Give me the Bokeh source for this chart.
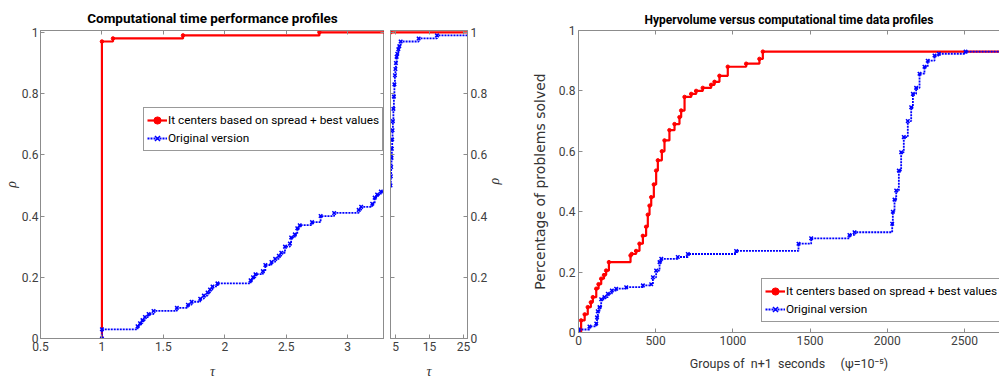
import math
from bokeh.plotting import figure
from bokeh.layouts import row
from bokeh.models import LinearAxis, FixedTicker, Range1d
from bokeh.embed import file_html
from bokeh.resources import INLINE

# ---- performance profile, main panel (tau from 0.5 to 3.3) ----
tau_new = [1.0, 1.0, 1.09, 1.66, 2.77, 3.3]
rho_new = [0.0, 0.97, 0.98, 0.99, 1.0, 1.0]

tau_orig = [1.0, 1.0, 1.29, 1.31, 1.33, 1.35, 1.38, 1.42, 1.61, 1.70, 1.73,
            1.80, 1.83, 1.86, 1.88, 1.90, 1.94, 2.21, 2.23, 2.25, 2.31, 2.33,
            2.38, 2.41, 2.44, 2.46, 2.49, 2.53, 2.54, 2.57, 2.59, 2.61, 2.71,
            2.78, 2.89, 3.09, 3.11, 3.20, 3.22, 3.24, 3.27, 3.3]
rho_orig = [0.0, 0.03, 0.04, 0.05, 0.06, 0.07, 0.08, 0.09, 0.10, 0.11, 0.12,
            0.13, 0.14, 0.15, 0.16, 0.17, 0.18, 0.19, 0.20, 0.21, 0.22, 0.24,
            0.25, 0.26, 0.27, 0.28, 0.30, 0.31, 0.33, 0.34, 0.36, 0.37, 0.38,
            0.40, 0.41, 0.42, 0.43, 0.44, 0.46, 0.47, 0.48, 0.48]

# ---- performance profile, tail panel (tau from 3.5 to 26) ----
tau_new_tail = [3.5, 26.2]
rho_new_tail = [1.0, 1.0]
tau_orig_tail = [3.5, 3.6, 3.7, 3.8, 3.9, 4.0, 4.1, 4.2, 4.35, 4.5, 4.65, 4.8,
                 4.95, 5.1, 5.3, 5.5, 5.8, 6.1, 6.5, 11.8, 17.2, 26.2]
rho_orig_tail = [0.50, 0.53, 0.56, 0.59, 0.62, 0.65, 0.68, 0.71, 0.75, 0.79,
                 0.83, 0.86, 0.88, 0.90, 0.92, 0.93, 0.945, 0.955, 0.97, 0.98,
                 0.99, 0.99]

# ---- hypervolume versus computational time data profiles ----
t_new = [0, 17, 40, 60, 80, 93, 115, 130, 147, 165, 179, 197, 337, 345, 373,
         395, 417, 438, 449, 460, 471, 488, 503, 514, 540, 557, 589, 622, 654,
         665, 687, 730, 762, 805, 859, 881, 913, 967, 1086, 1172, 1194, 2730]
p_new = [0.0, 0.04, 0.06, 0.084, 0.10, 0.117, 0.145, 0.16, 0.178, 0.19, 0.205,
         0.233, 0.255, 0.26, 0.27, 0.294, 0.32, 0.35, 0.39, 0.42, 0.448, 0.49,
         0.536, 0.57, 0.60, 0.636, 0.67, 0.69, 0.713, 0.735, 0.78, 0.79, 0.80,
         0.81, 0.82, 0.83, 0.85, 0.88, 0.89, 0.906, 0.93, 0.93]

t_orig = [0, 0, 71, 115, 120, 125, 136, 147, 168, 190, 216, 244, 309, 417, 471,
          482, 503, 525, 536, 643, 708, 1021, 1425, 1507, 1755, 1788, 2032,
          2036, 2047, 2058, 2075, 2090, 2107, 2133, 2155, 2166, 2187, 2209,
          2241, 2262, 2306, 2334, 2507, 2730]
p_orig = [0.0, 0.01, 0.02, 0.03, 0.05, 0.07, 0.084, 0.11, 0.117, 0.128, 0.139,
          0.145, 0.15, 0.156, 0.16, 0.183, 0.205, 0.233, 0.244, 0.25, 0.26,
          0.27, 0.294, 0.312, 0.323, 0.332, 0.36, 0.40, 0.44, 0.47, 0.536,
          0.597, 0.647, 0.70, 0.746, 0.79, 0.81, 0.857, 0.88, 0.90, 0.917,
          0.923, 0.93, 0.93]

# ---- axis ticks ----
x_ticks_main = [0.5, 1, 1.5, 2, 2.5, 3]
x_ticks_tail = [5, 15, 25]
x_ticks_hv = [0, 500, 1000, 1500, 2000, 2500]
y_ticks = [0, 0.2, 0.4, 0.6, 0.8, 1]
y_labels = {0: "0", 0.2: "0.2", 0.4: "0.4", 0.6: "0.6", 0.8: "0.8", 1: "1"}
x_labels_main = {0.5: "0.5", 1: "1", 1.5: "1.5", 2: "2", 2.5: "2.5", 3: "3"}

NEW_LABEL = "It centers based on spread + best values"
ORIG_LABEL = "Original version"

RED = "#ff0000"
BLUE = "#0000ff"
AXIS_COLOR = "#8c8c8c"
TICK_TEXT = "#404040"
SANS = "Roboto"
SERIF = "Liberation Serif"


def style_axis(ax, ticks, labels=None, show_labels=True, font_size="12px"):
    ax.ticker = FixedTicker(ticks=ticks)
    if labels:
        ax.major_label_overrides = labels
    ax.major_tick_in = 4
    ax.major_tick_out = 0
    ax.minor_tick_in = 0
    ax.minor_tick_out = 0
    ax.axis_line_color = AXIS_COLOR
    ax.major_tick_line_color = AXIS_COLOR
    ax.major_label_text_font = SANS
    if show_labels:
        ax.major_label_text_color = TICK_TEXT
        ax.major_label_text_font_size = font_size
        ax.major_label_standoff = 3
    else:
        # tick marks only, no numbers on this side of the box
        ax.major_label_text_color = None
        ax.major_label_text_font_size = "1px"
        ax.major_label_standoff = 0


def style_label(ax, font, size, italic=False, standoff=6):
    ax.axis_label_text_font = font
    ax.axis_label_text_font_style = "italic" if italic else "normal"
    ax.axis_label_text_font_size = size
    ax.axis_label_text_color = "#333333"
    ax.axis_label_standoff = standoff


def base_fig(width, height, x_range, y_range, left, right, top, bottom,
             fw, fh):
    p = figure(width=width, height=height, x_range=x_range, y_range=y_range,
               output_backend="svg", toolbar_location=None,
               min_border_left=left, min_border_right=right,
               min_border_top=top, min_border_bottom=bottom,
               frame_width=fw, frame_height=fh,
               x_axis_location=None, y_axis_location=None)
    p.grid.visible = False
    p.background_fill_color = "white"
    p.border_fill_color = "white"
    p.outline_line_color = AXIS_COLOR
    p.outline_line_width = 1
    return p


def draw_new(p, xs, ys, label=None):
    kw = {"legend_label": label} if label else {}
    p.step(xs, ys, mode="after", line_color=RED, line_width=2.2, **kw)
    p.scatter(xs[:-1], ys[:-1], marker="circle", size=3.5, color=RED, **kw)


def draw_orig(p, xs, ys, label=None):
    kw = {"legend_label": label} if label else {}
    p.step(xs, ys, mode="after", line_color=BLUE, line_width=1.8,
           line_dash="2 1", **kw)
    p.scatter(xs[:-1], ys[:-1], marker="x", size=5, line_width=1.5,
              color=BLUE, **kw)


def style_legend(p, loc):
    lg = p.legend[0]
    lg.location = loc
    lg.border_line_color = "#333333"
    lg.border_line_width = 1
    lg.background_fill_alpha = 1
    lg.label_text_font = SANS
    lg.label_text_font_size = "11.8px"
    lg.label_text_color = "#000000"
    lg.padding = 3
    lg.margin = 0
    lg.spacing = 0
    lg.glyph_width = 20
    lg.glyph_height = 18
    lg.label_height = 18
    lg.label_standoff = 1


# ---- left: main performance profile panel ----
pa = base_fig(384, 385, Range1d(0.5, 3.3), Range1d(0, 1.006),
              40, 0, 30, 47, 344, 308)
ax_b = LinearAxis(axis_label="τ")
style_axis(ax_b, x_ticks_main, x_labels_main)
style_label(ax_b, SERIF, "14px", italic=True, standoff=10)
pa.add_layout(ax_b, "below")
ax_l = LinearAxis(axis_label="ρ")
style_axis(ax_l, y_ticks, y_labels)
style_label(ax_l, SERIF, "14px", italic=True, standoff=0)
ax_l.major_label_standoff = 2
pa.add_layout(ax_l, "left")
ax_t = LinearAxis()
style_axis(ax_t, x_ticks_main, show_labels=False)
pa.add_layout(ax_t, "above")
ax_r = LinearAxis()
style_axis(ax_r, y_ticks, show_labels=False)
pa.add_layout(ax_r, "right")

draw_new(pa, tau_new, rho_new, NEW_LABEL)
draw_orig(pa, tau_orig, rho_orig, ORIG_LABEL)
style_legend(pa, (103, 187))

pa.title.text = "Computational time performance profiles"
pa.title.text_font = SANS
pa.title.text_font_style = "bold"
pa.title.text_font_size = "13.5px"
pa.title.align = "center"
pa.title.text_color = "#000000"

# ---- middle: tail of the performance profile ----
pb = base_fig(130, 385, Range1d(3.5, 26.2), Range1d(0, 1.006),
              6, 47, 30, 47, 77, 308)
bx_b = LinearAxis(axis_label="τ")
style_axis(bx_b, x_ticks_tail)
style_label(bx_b, SERIF, "14px", italic=True, standoff=10)
pb.add_layout(bx_b, "below")
bx_r = LinearAxis(axis_label="ρ")
style_axis(bx_r, y_ticks, y_labels)
style_label(bx_r, SERIF, "14px", italic=True, standoff=4)
bx_r.axis_label_orientation = math.pi / 2
pb.add_layout(bx_r, "right")
bx_l = LinearAxis()
style_axis(bx_l, y_ticks, show_labels=False)
pb.add_layout(bx_l, "left")
bx_t = LinearAxis()
style_axis(bx_t, x_ticks_tail, show_labels=False)
pb.add_layout(bx_t, "above")

draw_new(pb, tau_new_tail, rho_new_tail)
draw_orig(pb, tau_orig_tail, rho_orig_tail)

# ---- right: hypervolume data profiles ----
pc = base_fig(485, 385, Range1d(0, 2727), Range1d(0, 1),
              64, 0, 30, 53, 421, 302)
pc.outline_line_color = None
cx_b = LinearAxis(axis_label="Groups of\u00a0 n+1\u00a0 seconds\u00a0\u00a0\u00a0\u00a0 (ψ=10⁻⁵)")
style_axis(cx_b, x_ticks_hv)
style_label(cx_b, SANS, "12.5px", standoff=8)
pc.add_layout(cx_b, "below")
cx_l = LinearAxis(axis_label="Percentage of problems solved")
style_axis(cx_l, y_ticks, y_labels)
style_label(cx_l, "DejaVu Sans", "14px", standoff=8)
pc.add_layout(cx_l, "left")
cx_t = LinearAxis()
style_axis(cx_t, x_ticks_hv, show_labels=False)
pc.add_layout(cx_t, "above")

draw_new(pc, t_new, p_new, NEW_LABEL)
draw_orig(pc, t_orig, p_orig, ORIG_LABEL)
style_legend(pc, (183, 10))

pc.title.text = "Hypervolume versus computational time data profiles"
pc.title.text_font = SANS
pc.title.text_font_style = "bold"
pc.title.text_font_size = "12px"
pc.title.align = "center"
pc.title.text_color = "#000000"
pc.title.offset = 0
pc.title.standoff = 7

layout = row(pa, pb, pc)
open("out.html", "w").write(file_html(layout, INLINE))
